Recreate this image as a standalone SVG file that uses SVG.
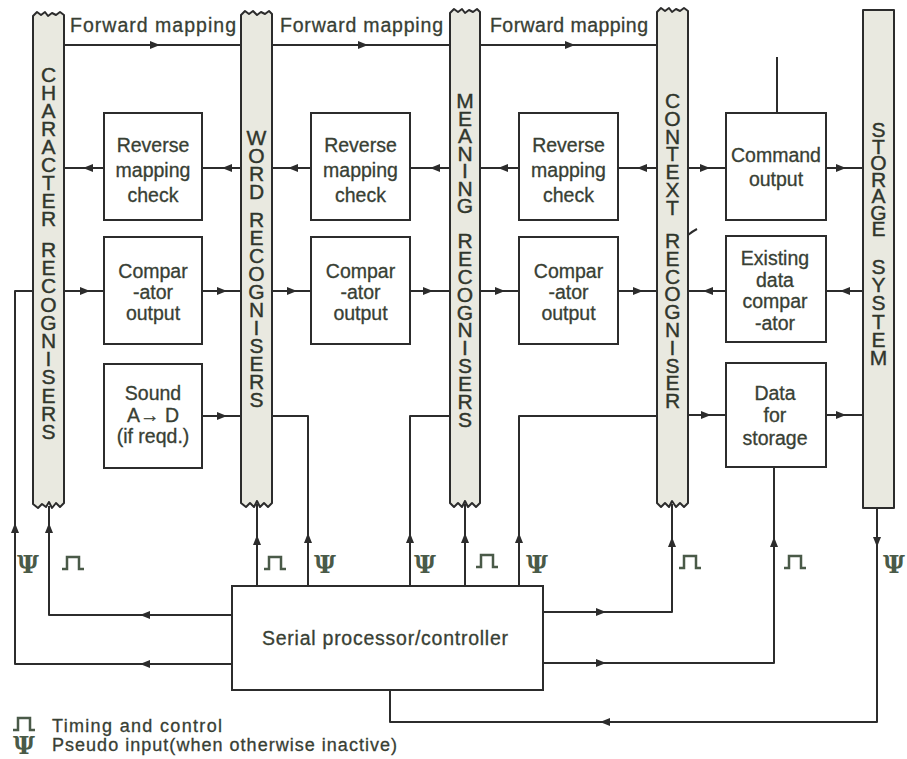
<svg xmlns="http://www.w3.org/2000/svg" width="907" height="759" viewBox="0 0 907 759">
<defs>
<style>
.bar{fill:#e9e9e0;stroke:#2c2c2c;stroke-width:2;stroke-linejoin:round}
.box{fill:#fff;stroke:#2c2c2c;stroke-width:2}
.ln{fill:none;stroke:#2c2c2c;stroke-width:2;stroke-linejoin:round}
.t{font-family:"Liberation Sans",Arial,sans-serif;font-size:19.5px;fill:#384034;stroke:#384034;stroke-width:0.3;text-anchor:middle}
.col{font-family:"Liberation Sans",Arial,sans-serif;font-size:21px;fill:#30362c;stroke:#30362c;stroke-width:0.4;text-anchor:middle}
.lg{font-family:"Liberation Sans",Arial,sans-serif;font-size:18px;fill:#384034;stroke:#384034;stroke-width:0.3}
.sym{font-family:"DejaVu Serif",serif;font-weight:bold;font-size:24px;fill:#4a5a48;text-anchor:middle}
.ah{fill:#2c2c2c}
.pulse{fill:none;stroke:#4a5a48;stroke-width:2.5}
</style>
<path id="ah" d="M0,0 L-10,-4 L-10,4 Z"/>
<path id="pl" d="M0,12 H5 V0 H17 V12 H22"/>
</defs>
<rect width="907" height="759" fill="#fff"/>

<g id="connectors">
  <path class="ln" d="M64,45 H241 M272,45 H450 M480,45 H657"/>
  <path class="ln" d="M64,168 H104 M202,168 H241 M272,168 H311 M410,168 H450 M480,168 H519 M618,168 H657 M688,168 H726 M826,168 H863 M777,57 V113"/>
  <path class="ln" d="M64,291 H104 M202,291 H241 M272,291 H311 M410,291 H450 M480,291 H519 M618,291 H657 M688,291 H726 M826,291 H863"/>
  <path class="ln" d="M202,416 H241 M688,415 H726 M826,415 H863"/>
  <path class="ln" d="M272,416 H308 V586"/>
  <path class="ln" d="M410,586 V416 H450"/>
  <path class="ln" d="M519,586 V416 H657"/>
  <path class="ln" d="M232,615 H49 V506"/>
  <path class="ln" d="M232,664 H15 V291 H33"/>
  <path class="ln" d="M257,586 V504"/>
  <path class="ln" d="M465,586 V504"/>
  <path class="ln" d="M543,612 H672 V504"/>
  <path class="ln" d="M543,663 H774 V467"/>
  <path class="ln" d="M877,508 V722 H390 V690"/>
  <path class="ln" d="M688,235 Q693,231 697,229"/>
  <g class="ah">
    <use href="#ah" transform="translate(160,45)"/>
    <use href="#ah" transform="translate(368,45)"/>
    <use href="#ah" transform="translate(575,45)"/>
    <use href="#ah" transform="translate(83,168) rotate(180)"/>
    <use href="#ah" transform="translate(222,168) rotate(180)"/>
    <use href="#ah" transform="translate(288,168) rotate(180)"/>
    <use href="#ah" transform="translate(430,168) rotate(180)"/>
    <use href="#ah" transform="translate(498,168) rotate(180)"/>
    <use href="#ah" transform="translate(637,168) rotate(180)"/>
    <use href="#ah" transform="translate(710,168)"/>
    <use href="#ah" transform="translate(846,168)"/>
    <use href="#ah" transform="translate(90,291)"/>
    <use href="#ah" transform="translate(227,291)"/>
    <use href="#ah" transform="translate(297,291)"/>
    <use href="#ah" transform="translate(433,291)"/>
    <use href="#ah" transform="translate(505,291)"/>
    <use href="#ah" transform="translate(643,291)"/>
    <use href="#ah" transform="translate(703,291) rotate(180)"/>
    <use href="#ah" transform="translate(840,291) rotate(180)"/>
    <use href="#ah" transform="translate(227,416)"/>
    <use href="#ah" transform="translate(711,415)"/>
    <use href="#ah" transform="translate(846,415)"/>
    <use href="#ah" transform="translate(15,523) rotate(-90)"/>
    <use href="#ah" transform="translate(49,523) rotate(-90)"/>
    <use href="#ah" transform="translate(257,535) rotate(-90)"/>
    <use href="#ah" transform="translate(308,533) rotate(-90)"/>
    <use href="#ah" transform="translate(410,533) rotate(-90)"/>
    <use href="#ah" transform="translate(465,533) rotate(-90)"/>
    <use href="#ah" transform="translate(519,533) rotate(-90)"/>
    <use href="#ah" transform="translate(672,537) rotate(-90)"/>
    <use href="#ah" transform="translate(774,537) rotate(-90)"/>
    <use href="#ah" transform="translate(877,547) rotate(90)"/>
    <use href="#ah" transform="translate(140,615) rotate(180)"/>
    <use href="#ah" transform="translate(140,664) rotate(180)"/>
    <use href="#ah" transform="translate(606,612)"/>
    <use href="#ah" transform="translate(606,663)"/>
    <use href="#ah" transform="translate(600,722) rotate(180)"/>
  </g>
  <g class="pulse">
    <use href="#pl" x="62" y="557"/>
    <use href="#pl" x="264" y="557"/>
    <use href="#pl" x="476" y="555"/>
    <use href="#pl" x="679" y="556"/>
    <use href="#pl" x="784" y="556"/>
  </g>
  <g>
    <text class="sym" x="28" y="573">Ψ</text>
    <text class="sym" x="325" y="573">Ψ</text>
    <text class="sym" x="425" y="573">Ψ</text>
    <text class="sym" x="537" y="573">Ψ</text>
    <text class="sym" x="894" y="573">Ψ</text>
  </g>
  <text class="t" x="153" y="32" textLength="166" lengthAdjust="spacing">Forward mapping</text>
  <text class="t" x="361.5" y="32" textLength="163" lengthAdjust="spacing">Forward mapping</text>
  <text class="t" x="569" y="32" textLength="158" lengthAdjust="spacing">Forward mapping</text>
</g>

<g id="character-recognisers">
  <path class="bar" d="M33,504 V16 L37,12 L41,15 L45,12 L48,16 L52,13 L56,15 L60,12 L64,15 V503 L60,507 L56,503 L52,508 L49,502 L46,507 L42,504 L38,508 L33,504 Z"/>
  <text class="col" x="48.5 48.5 48.5 48.5 48.5 48.5 48.5 48.5 48.5" y="82 100 118 136 154 172 190 208 226">CHARACTER</text>
  <text class="col" x="48.5 48.5 48.5 48.5 48.5 48.5 48.5 48.5 48.5 48.5 48.5" y="257 275 293 312 330 348 366 384 403 421 439">RECOGNISERS</text>
</g>

<g id="word-recognisers">
  <path class="bar" d="M241,503 V15 L245,11 L249,14 L253,11 L257,15 L261,12 L265,14 L269,11 L272,14 V503 L268,507 L264,503 L260,507 L257,501 L254,507 L250,503 L246,507 L241,503 Z"/>
  <text class="col" x="256.5 256.5 256.5 256.5" y="145 163 181 199">WORD</text>
  <text class="col" x="256.5 256.5 256.5 256.5 256.5 256.5 256.5 256.5 256.5 256.5 256.5" y="227 245 263 281 299 317 335 353 371 389 407">RECOGNISERS</text>
</g>

<g id="meaning-recognisers">
  <path class="bar" d="M450,503 V13 L454,9 L458,12 L462,9 L465,13 L469,10 L473,12 L477,9 L480,12 V503 L476,507 L472,503 L468,507 L465,501 L462,507 L458,503 L454,507 L450,503 Z"/>
  <text class="col" x="465 465 465 465 465 465 465" y="108 125.5 143 160.5 178 195.5 213">MEANING</text>
  <text class="col" x="465 465 465 465 465 465 465 465 465 465 465" y="248 266 284 302 320 337 355 373 391 409 427">RECOGNISERS</text>
</g>

<g id="context-recogniser">
  <path class="bar" d="M657,503 V12 L661,8 L665,11 L669,8 L672,12 L676,9 L680,11 L684,8 L688,11 V503 L684,507 L680,503 L676,507 L672,501 L669,507 L665,503 L661,507 L657,503 Z"/>
  <text class="col" x="672.5 672.5 672.5 672.5 672.5 672.5 672.5" y="108 126 144 161 179 197 215">CONTEXT</text>
  <text class="col" x="672.5 672.5 672.5 672.5 672.5 672.5 672.5 672.5 672.5 672.5" y="248 266 284 301 319 337 355 373 390 408">RECOGNISER</text>
</g>

<g id="storage-system">
  <rect class="bar" x="863" y="10" width="31" height="498"/>
  <text class="col" x="878.5 878.5 878.5 878.5 878.5 878.5 878.5" y="137 153.5 170 186.5 203 219.5 236">STORAGE</text>
  <text class="col" x="878.5 878.5 878.5 878.5 878.5 878.5" y="274 292 310 329 347 365">SYSTEM</text>
</g>

<g id="reverse-mapping-1">
  <rect class="box" x="104" y="113" width="98" height="107"/>
  <text class="t" x="153" y="152">Reverse</text>
  <text class="t" x="153" y="177">mapping</text>
  <text class="t" x="153" y="202">check</text>
</g>
<g id="reverse-mapping-2">
  <rect class="box" x="311" y="113" width="99" height="107"/>
  <text class="t" x="360.5" y="152">Reverse</text>
  <text class="t" x="360.5" y="177">mapping</text>
  <text class="t" x="360.5" y="202">check</text>
</g>
<g id="reverse-mapping-3">
  <rect class="box" x="519" y="113" width="99" height="107"/>
  <text class="t" x="568.5" y="152">Reverse</text>
  <text class="t" x="568.5" y="177">mapping</text>
  <text class="t" x="568.5" y="202">check</text>
</g>
<g id="command-output">
  <rect class="box" x="726" y="113" width="100" height="107"/>
  <text class="t" x="776" y="162">Command</text>
  <text class="t" x="776" y="186">output</text>
</g>

<g id="comparator-1">
  <rect class="box" x="104" y="237" width="98" height="107"/>
  <text class="t" x="153" y="278">Compar</text>
  <text class="t" x="153" y="299">-ator</text>
  <text class="t" x="153" y="320">output</text>
</g>
<g id="comparator-2">
  <rect class="box" x="311" y="237" width="99" height="107"/>
  <text class="t" x="360.5" y="278">Compar</text>
  <text class="t" x="360.5" y="299">-ator</text>
  <text class="t" x="360.5" y="320">output</text>
</g>
<g id="comparator-3">
  <rect class="box" x="519" y="237" width="99" height="107"/>
  <text class="t" x="568.5" y="278">Compar</text>
  <text class="t" x="568.5" y="299">-ator</text>
  <text class="t" x="568.5" y="320">output</text>
</g>
<g id="existing-data-comparator">
  <rect class="box" x="726" y="236" width="100" height="106"/>
  <text class="t" x="775" y="265">Existing</text>
  <text class="t" x="775" y="287">data</text>
  <text class="t" x="775" y="308">compar</text>
  <text class="t" x="775" y="330">-ator</text>
</g>

<g id="sound-ad">
  <rect class="box" x="104" y="364" width="98" height="104"/>
  <text class="t" x="153" y="400">Sound</text>
  <text class="t" x="153" y="422">A→ D</text>
  <text class="t" x="153" y="443">(if reqd.)</text>
</g>
<g id="data-for-storage">
  <rect class="box" x="726" y="363" width="100" height="104"/>
  <text class="t" x="775" y="400">Data</text>
  <text class="t" x="775" y="422">for</text>
  <text class="t" x="775" y="445">storage</text>
</g>

<g id="serial-processor">
  <rect class="box" x="232" y="586" width="311" height="104"/>
  <text class="t" x="385" y="645" textLength="246" lengthAdjust="spacing">Serial processor/controller</text>
</g>

<g id="legend">
  <use href="#pl" class="pulse" x="13" y="718"/>
  <text class="lg" x="52" y="732" textLength="170" lengthAdjust="spacing">Timing and control</text>
  <text class="sym" x="24" y="754">Ψ</text>
  <text class="lg" x="52" y="751" textLength="345" lengthAdjust="spacing">Pseudo input(when otherwise inactive)</text>
</g>
</svg>
